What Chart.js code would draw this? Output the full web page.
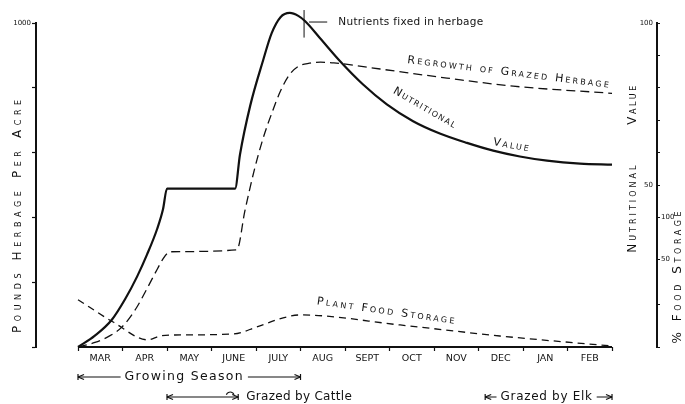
<!DOCTYPE html>
<html>
<head>
<meta charset="utf-8">
<script src="https://cdn.jsdelivr.net/npm/chart.js@4.4.0/dist/chart.umd.min.js"></script>
<style>
  html, body { margin: 0; padding: 0; background: #fff; }
  canvas { display: block; }
</style>
</head>
<body>
<canvas id="chart" width="685" height="404"></canvas>
<script>
const INK = "#111";

// months of the grazing year, x = 0 is the start of March
const months = ["MAR", "APR", "MAY", "JUNE", "JULY", "AUG", "SEPT", "OCT", "NOV", "DEC", "JAN", "FEB"];

// solid curve: herbage / nutrients fixed, then nutritional value
const herbageMonths = [0, 0.38, 0.76, 1.06, 1.33, 1.55, 1.78, 1.91, 2.0, 3.53, 3.64, 3.87, 4.16, 4.35, 4.55, 4.76, 4.95, 5.10, 5.44, 5.89, 6.40, 6.94, 7.53, 8.13, 8.74, 9.33, 9.93, 10.54, 11.28, 12];
const herbagePounds = [0, 35, 84, 148, 218, 285, 365, 425, 489, 489, 594, 745, 885, 968, 1018, 1031, 1022, 1006, 953, 882, 811, 749, 697, 659, 630, 606, 588, 575, 566, 563];

// long dashes: regrowth of grazed herbage
const regrowthMonths = [0, 0.38, 0.72, 0.99, 1.3, 1.55, 1.78, 1.91, 2.0, 2.07, 3.57, 3.75, 3.95, 4.15, 4.35, 4.55, 4.75, 4.95, 5.2, 5.45, 5.75, 6.79, 8.29, 9.78, 12];
const regrowthPounds = [0, 14, 35, 62, 118, 180, 240, 272, 288, 294, 300, 420, 540, 640, 720, 790, 840, 866, 876, 879, 877, 858, 830, 805, 783];

// short dashes: plant food storage
const storageMonths = [0, 0.79, 1.57, 1.84, 2.18, 3.48, 4.02, 4.61, 4.99, 7.24, 9.48, 12];
const storageValues = [146, 77, 22, 34, 37, 40, 62, 90, 99, 68, 34, 3];

// axis ticks
const leftTicks = [0, 200, 400, 600, 800, 1000];
const rightTicks = [0, 13, 27, 40, 50, 60, 70, 80, 90, 100];
const nutritionLabels = { 100: "100", 50: "50" };
const storageLabels = { 40: "100", 27: "50" };

// bracket rows under the month axis
const growingSeason = [0, 5];
const grazedByCattle = [2, 3.6];
const grazedByElk = [9.15, 12];

const X_MIN = -0.944;
const X_MAX = 13.011;

function toPoints(xs, ys) {
  return xs.map((x, i) => ({ x, y: ys[i] }));
}

function drawText(ctx, str, px, py, font, angle = 0, spacing = 0, align = "center") {
  ctx.save();
  ctx.translate(px, py);
  ctx.rotate(angle * Math.PI / 180);
  ctx.font = font;
  ctx.letterSpacing = spacing + "px";
  ctx.textAlign = align;
  ctx.textBaseline = "middle";
  ctx.fillText(str, 0, 0);
  ctx.restore();
}

function line(ctx, x1, y1, x2, y2, width = 1.2) {
  ctx.beginPath();
  ctx.lineWidth = width;
  ctx.moveTo(x1, y1);
  ctx.lineTo(x2, y2);
  ctx.stroke();
}

function bracket(ctx, x1, x2, yy) {
  line(ctx, x1, yy, x2, yy);
  line(ctx, x1, yy - 3, x1, yy + 3);
  line(ctx, x2, yy - 3, x2, yy + 3);
  line(ctx, x1, yy, x1 + 6, yy - 2.5);
  line(ctx, x1, yy, x1 + 6, yy + 2.5);
  line(ctx, x2, yy, x2 - 6, yy - 2.5);
  line(ctx, x2, yy, x2 - 6, yy + 2.5);
}

function labelOnGap(ctx, str, cx, yy, font, spacing) {
  ctx.save();
  ctx.font = font;
  ctx.letterSpacing = spacing + "px";
  const w = ctx.measureText(str).width;
  ctx.fillStyle = "#fff";
  ctx.fillRect(cx - w / 2 - 4, yy - 8, w + 8, 16);
  ctx.restore();
  drawText(ctx, str, cx, yy, font, 0, spacing);
}

const decorations = {
  id: "decorations",
  afterDraw(chart) {
    const { ctx, chartArea, scales: { x, y, y2 } } = chart;
    ctx.save();
    ctx.fillStyle = INK;
    ctx.strokeStyle = INK;

    // month axis line only spans the year
    line(ctx, x.getPixelForValue(0), chartArea.bottom, x.getPixelForValue(12), chartArea.bottom, 2);

    const caps = size => `small-caps ${size}px "DejaVu Sans"`;
    const hand = size => `${size}px "DejaVu Sans"`;

    // axis titles
    drawText(ctx, "Pounds Herbage Per Acre", 18, y.getPixelForValue(410), caps(12), -90, 4.6);
    drawText(ctx, "Value", chartArea.right - 24, y2.getPixelForValue(75), caps(12), -90, 2.6);
    drawText(ctx, "Nutritional", chartArea.right - 24, y2.getPixelForValue(43), caps(12), -90, 3);
    drawText(ctx, "% Food Storage", chartArea.right + 21, y2.getPixelForValue(22), caps(12), -90, 3.6);

    // nutritional value labels sit inside the right axis
    ctx.font = hand(7);
    ctx.textAlign = "right";
    ctx.textBaseline = "middle";
    Object.keys(nutritionLabels).forEach(v => {
      ctx.fillText(nutritionLabels[v], chartArea.right - 4, y2.getPixelForValue(Number(v)));
    });

    // curve labels
    const mx = x.getPixelForValue(5.08);
    line(ctx, mx, y.getPixelForValue(1040), mx, y.getPixelForValue(955), 1);
    line(ctx, mx + 5, y.getPixelForValue(1003), x.getPixelForValue(5.6), y.getPixelForValue(1003), 1);
    drawText(ctx, "Nutrients fixed in herbage", x.getPixelForValue(5.85), y.getPixelForValue(1003), hand(10.5), 0, 0.3, "left");
    drawText(ctx, "Regrowth of Grazed Herbage", x.getPixelForValue(9.69), y.getPixelForValue(847), caps(11), 7, 2.2);
    drawText(ctx, "Nutritional", x.getPixelForValue(7.8), y.getPixelForValue(737), caps(11), 30, 1.4);
    drawText(ctx, "Value", x.getPixelForValue(9.75), y.getPixelForValue(622), caps(11), 10, 2);
    drawText(ctx, "Plant Food Storage", x.getPixelForValue(6.94), y.getPixelForValue(110), caps(11), 8, 2.3);

    // brackets under the axis
    const row1 = chartArea.bottom + 30;
    const row2 = chartArea.bottom + 50;
    const gs1 = x.getPixelForValue(growingSeason[0]);
    const gs2 = x.getPixelForValue(growingSeason[1]);
    bracket(ctx, gs1, gs2, row1);
    labelOnGap(ctx, "Growing Season", (gs1 + gs2) / 2 - 5, row1, hand(12.5), 1.3);

    const c1 = x.getPixelForValue(grazedByCattle[0]);
    const c2 = x.getPixelForValue(grazedByCattle[1]);
    bracket(ctx, c1, c2, row2);
    ctx.beginPath();
    ctx.lineWidth = 1.2;
    ctx.arc(c2 - 8, row2 - 1, 4, Math.PI * 1.1, Math.PI * 1.9);
    ctx.stroke();
    drawText(ctx, "Grazed by Cattle", c2 + 8, row2, hand(12), 0, 0.3, "left");

    const e1 = x.getPixelForValue(grazedByElk[0]);
    const e2 = x.getPixelForValue(grazedByElk[1]);
    bracket(ctx, e1, e2, row2);
    labelOnGap(ctx, "Grazed by Elk", (e1 + e2) / 2 - 2, row2, hand(12), 0.7);

    ctx.restore();
  }
};

new Chart(document.getElementById("chart"), {
  type: "line",
  data: {
    datasets: [
      {
        label: "Nutrients fixed in herbage",
        data: toPoints(herbageMonths, herbagePounds),
        borderColor: INK,
        borderWidth: 2.2,
        cubicInterpolationMode: "monotone",
        pointRadius: 0,
        clip: false
      },
      {
        label: "Regrowth of grazed herbage",
        data: toPoints(regrowthMonths, regrowthPounds),
        borderColor: INK,
        borderWidth: 1.3,
        borderDash: [9, 5],
        cubicInterpolationMode: "monotone",
        pointRadius: 0,
        clip: false
      },
      {
        label: "Plant food storage",
        data: toPoints(storageMonths, storageValues),
        borderColor: INK,
        borderWidth: 1.3,
        borderDash: [7, 5],
        cubicInterpolationMode: "monotone",
        pointRadius: 0,
        clip: false
      }
    ]
  },
  options: {
    responsive: false,
    animation: false,
    devicePixelRatio: 1,
    layout: { padding: { top: 23, left: 0, right: 0, bottom: 0 } },
    plugins: {
      legend: { display: false },
      tooltip: { enabled: false }
    },
    scales: {
      x: {
        type: "linear",
        min: X_MIN,
        max: X_MAX,
        afterBuildTicks: scale => {
          const ticks = [];
          for (let i = 0; i <= 24; i++) ticks.push({ value: i / 2 });
          scale.ticks = ticks;
        },
        afterFit: scale => { scale.height = 57; },
        border: { display: false },
        grid: {
          drawOnChartArea: false,
          tickLength: 4,
          tickWidth: 1.2,
          tickColor: ctx => (ctx.tick && Number.isInteger(ctx.tick.value) ? INK : "rgba(0,0,0,0)")
        },
        ticks: {
          autoSkip: false,
          maxRotation: 0,
          padding: 2,
          color: INK,
          font: { family: "DejaVu Sans", size: 9.5 },
          callback: v => (Number.isInteger(v) ? "" : months[Math.floor(v)])
        }
      },
      y: {
        position: "left",
        min: 0,
        max: 1000,
        afterBuildTicks: scale => { scale.ticks = leftTicks.map(value => ({ value })); },
        afterFit: scale => { scale.width = 36; },
        border: { color: INK, width: 2 },
        grid: { drawOnChartArea: false, tickLength: 4, tickColor: INK, tickWidth: 1.2 },
        ticks: {
          padding: 1,
          color: INK,
          font: { family: "DejaVu Sans", size: 7 },
          callback: v => (v === 1000 ? "1000" : "")
        }
      },
      y2: {
        position: "right",
        min: 0,
        max: 100,
        afterBuildTicks: scale => { scale.ticks = rightTicks.map(value => ({ value })); },
        afterFit: scale => { scale.width = 28; },
        border: { color: INK, width: 2 },
        grid: { drawOnChartArea: false, tickLength: 3, tickColor: INK, tickWidth: 1.2 },
        ticks: {
          padding: 1,
          color: INK,
          font: { family: "DejaVu Sans", size: 7 },
          callback: v => storageLabels[v] || ""
        }
      }
    }
  },
  plugins: [decorations]
});
</script>
</body>
</html>
